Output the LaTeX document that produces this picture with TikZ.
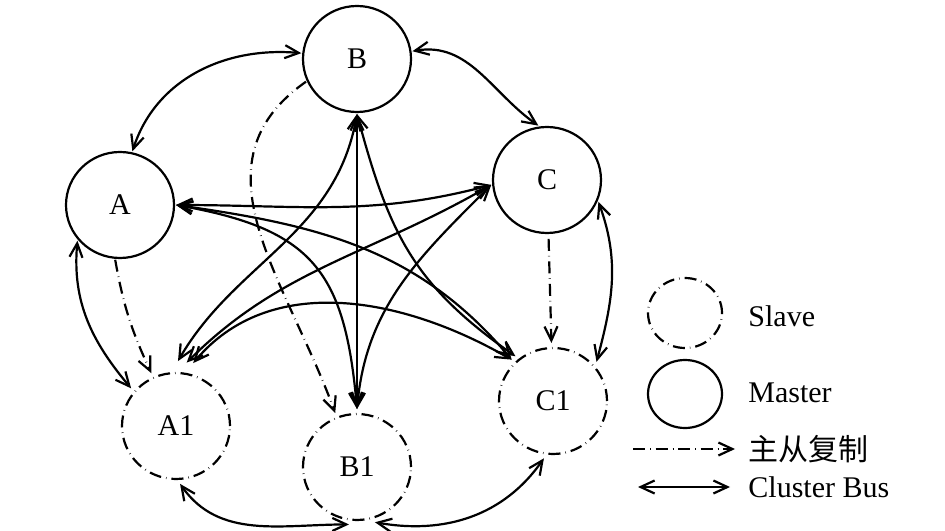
\documentclass[tikz,border=0pt]{standalone}
\usepackage{fontspec}
\setmainfont{Liberation Serif}
\newfontfamily\cjk{Noto Sans CJK SC}
\usetikzlibrary{shapes.geometric,arrows.meta}

\begin{document}
\begin{tikzpicture}[x=0.5pt,y=0.5pt,
    ddash/.style={dash pattern=on 6pt off 2.5pt on 0.25pt off 2.5pt},
    master/.style={ellipse,draw,line width=1.1pt,minimum width=54pt,minimum height=53pt,
      inner sep=0pt,outer sep=1pt,font=\fontsize{15}{18}\selectfont},
    slave/.style={master,ddash,outer sep=2.5pt},
    bus/.style={line width=1.1pt,{Straight Barb[length=7pt,width=6.5pt]}-{Straight Barb[length=7pt,width=6.5pt]}},
    repl/.style={line width=1.1pt,ddash,-{Straight Barb[length=7pt,width=6.5pt]}},
    legtext/.style={anchor=west,inner sep=0pt,font=\fontsize{15}{18}\selectfont}]
\useasboundingbox (0,0) rectangle (945,530);

% masters and slaves
\node[master] (B) at (357,471) {B};
\node[master] (A) at (120,325) {A};
\node[master] (C) at (547,350) {C};
\node[slave] (A1) at (176,104) {A1};
\node[slave] (B1) at (357,63) {B1};
\node[slave] (C1) at (553,129) {C1};

% replication
\draw[repl] (A.265) to[out=280,in=115] (A1.115);
\draw[repl] (B.204) to[out=215,in=110,looseness=1.1] (B1.112);
\draw[repl,shorten <=2pt] (C) -- (C1);

% cluster bus, outer ring
\draw[bus] (A.77) to[out=72,in=175] (B.174);
\draw[bus] (B.8) to[out=10,in=145] (C.99);
\draw[bus] (A.220) to[out=265,in=130] (A1.140);
\draw[bus] (C.337) to[out=290,in=75] (C1.42);
\draw[bus] (A1.274) to[out=305,in=180] (B1.262);
\draw[bus] (B1.288) to[out=350,in=235] (C1.261);

% cluster bus, star
\draw[bus] (A.east) to[out=0,in=195] (C.185);
\draw[bus] (A.east) to[out=350,in=95,looseness=1.3] (B1.north);
\draw[bus] (A.east) to[out=352,in=130] (C1.135);
\draw[bus,shorten >=4pt] (B.south) to[out=260,in=60] (A1.92);
\draw[bus] (B.south) -- (B1.north);
\draw[bus] (B.south) to[out=285,in=145,looseness=1.1] (C1.130);
\draw[bus,shorten >=4pt] (C.185) to[out=210,in=45] (A1.85);
\draw[bus] (C.185) to[out=225,in=85] (B1.north);
\draw[bus,shorten <=4pt] (A1.78) to[out=50,in=150] (C1.135);

% legend
\node[slave,minimum width=37pt,minimum height=35pt] (slv) at (685,217) {};
\node[master,minimum width=37pt,minimum height=34pt] (mst) at (685,136) {};
\node[legtext] (slvt) at (748,214) {Slave};
\node[legtext] (mstt) at (748,137) {Master};
\coordinate (r1) at (633,81);
\coordinate (r2) at (735,81);
\draw[repl] (r1) -- (r2);
\node[legtext] (replt) at (748,81) {\cjk 主从复制};
\coordinate (b1) at (638,43);
\coordinate (b2) at (730,43);
\draw[bus] (b1) -- (b2);
\node[legtext] (bust) at (748,43) {Cluster Bus};
\end{tikzpicture}
\end{document}
